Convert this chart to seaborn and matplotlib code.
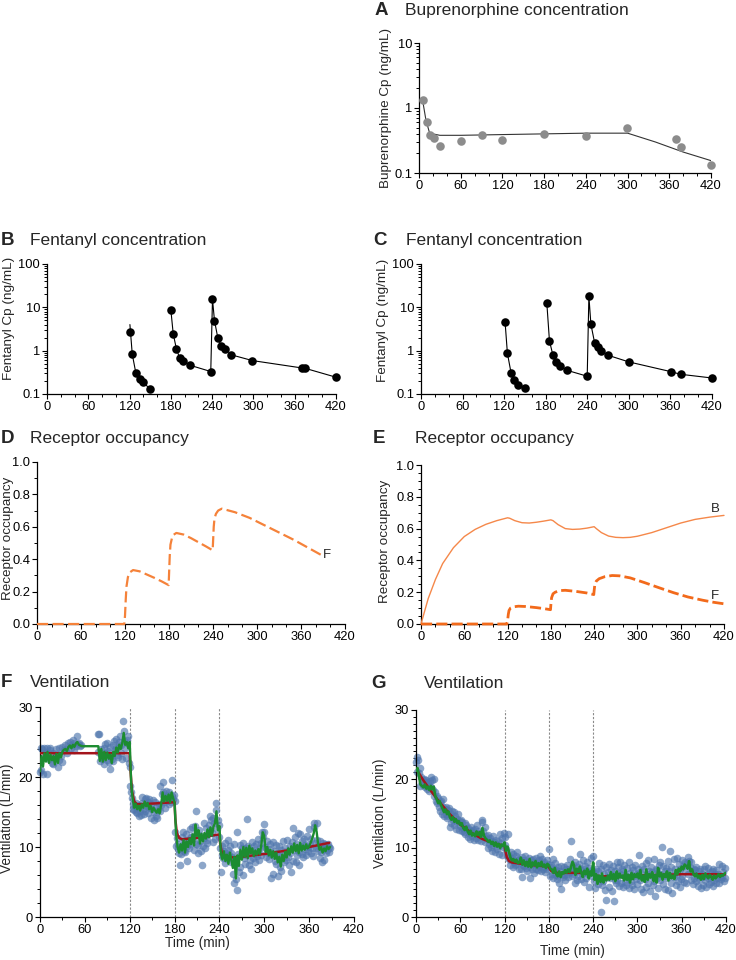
import numpy as np
import pandas as pd
import matplotlib
matplotlib.use("Agg")
import matplotlib.pyplot as plt
from matplotlib.ticker import MultipleLocator, LogLocator, NullFormatter, FormatStrFormatter
import seaborn as sns

# ---- A: buprenorphine concentration ----
bup_t = [5.8, 11.5, 15.9, 21, 30.8, 61, 90.8, 120, 180, 240, 299.4, 370, 376.8, 420]
bup_cp = [1.34, 0.60, 0.385, 0.34, 0.257, 0.31, 0.39, 0.32, 0.40, 0.37, 0.49, 0.333, 0.25, 0.131]
bup_fit_t = [5, 10, 15, 20, 30, 60, 120, 180, 240, 300, 340, 380, 420]
bup_fit_cp = [1.35, 0.65, 0.42, 0.40, 0.38, 0.38, 0.39, 0.40, 0.41, 0.41, 0.30, 0.21, 0.155]

# ---- B: fentanyl concentration ----
fb1_t = [120, 123.9, 129.2, 134.5, 139.4, 149.5]
fb1_cp = [2.65, 0.83, 0.30, 0.223, 0.186, 0.133]
fb1_fit_t = [120.5, 123.9, 129.2, 134.5, 139.4, 149.5]
fb1_fit_cp = [4.0, 0.83, 0.30, 0.223, 0.186, 0.133]
fb2_t = [180, 183.4, 188.2, 193, 197.9, 208, 238, 240.5, 243.4, 248.2, 253.5, 259.4, 268, 298.6, 370, 375.5, 420]
fb2_cp = [8.7, 2.47, 1.07, 0.67, 0.59, 0.46, 0.33, 15.4, 4.93, 1.99, 1.25, 1.11, 0.80, 0.59, 0.40, 0.39, 0.244]

# ---- C: fentanyl concentration ----
fc1_t = [121.4, 124.7, 130, 134.9, 140.2, 150.3]
fc1_cp = [4.47, 0.873, 0.306, 0.207, 0.161, 0.135]
fc2_t = [181.6, 185.4, 190.3, 195.1, 199.9, 210.5, 239.9, 242.3, 245.2, 250.5, 255.3, 260.1, 269.7, 300, 360.3, 374.7, 420]
fc2_cp = [12.5, 1.68, 0.80, 0.54, 0.45, 0.353, 0.257, 18.2, 4.09, 1.54, 1.22, 0.99, 0.785, 0.55, 0.329, 0.285, 0.234]

# ---- D: receptor occupancy (fentanyl) ----
occ_d_t = [0, 119, 120, 121, 122, 124, 127, 131, 140, 150, 160, 170, 179.5, 180, 181, 182, 184, 186, 190, 200,
           210, 220, 230, 239.5, 240, 241, 242, 244, 247, 252, 270, 290, 310, 330, 350, 370, 388]
occ_d_f = [0, 0, 0.05, 0.15, 0.23, 0.29, 0.32, 0.333, 0.325, 0.305, 0.285, 0.263, 0.24, 0.30, 0.42, 0.49, 0.53, 0.55, 0.562, 0.552,
           0.53, 0.505, 0.48, 0.455, 0.50, 0.60, 0.65, 0.68, 0.70, 0.712, 0.69, 0.655, 0.61, 0.565, 0.52, 0.47, 0.425]

# ---- E: receptor occupancy (buprenorphine + fentanyl) ----
occ_e_bt = [0, 5, 10, 20, 30, 45, 60, 75, 90, 105, 120, 123, 130, 140, 150, 160, 170, 180, 183, 190,
            200, 210, 220, 230, 240, 243, 250, 260, 270, 280, 290, 300, 320, 340, 360, 380, 400, 420]
occ_e_b = [0, 0.08, 0.16, 0.28, 0.38, 0.48, 0.55, 0.595, 0.627, 0.65, 0.668, 0.665, 0.65, 0.637, 0.635, 0.64, 0.647, 0.655, 0.65, 0.625,
           0.60, 0.595, 0.597, 0.603, 0.612, 0.60, 0.575, 0.553, 0.545, 0.543, 0.545, 0.552, 0.575, 0.605, 0.635, 0.658, 0.672, 0.683]
occ_e_ft = [0, 119, 120, 121, 122, 124, 128, 135, 145, 160, 170, 179.5, 180, 181, 183, 186, 192, 200, 215, 230,
            239.5, 240, 241, 243, 247, 255, 265, 275, 290, 310, 330, 350, 370, 390, 405, 420]
occ_e_f = [0, 0, 0.02, 0.06, 0.085, 0.10, 0.108, 0.112, 0.11, 0.103, 0.097, 0.09, 0.12, 0.165, 0.19, 0.20, 0.21, 0.212, 0.205, 0.195,
           0.185, 0.21, 0.25, 0.27, 0.285, 0.298, 0.305, 0.303, 0.29, 0.26, 0.228, 0.197, 0.17, 0.15, 0.137, 0.127]

# ---- F: ventilation, fentanyl only ----
vf1_t = [0, 1, 2, 3, 4, 5, 6, 8, 9, 10, 12, 13, 14, 16, 17, 18, 20, 21, 22, 24, 25, 26, 28, 29, 30, 32,
         34, 35, 36, 38, 40, 41, 42, 44, 45, 46, 48, 50, 51, 52, 54, 55]
vf1_v = [20.7, 24.2, 21.0, 24.0, 20.5, 22.8, 24.1, 23.6, 20.4, 24.2, 22.6, 23.9, 24.1, 22.0, 23.5, 21.8, 22.9, 24.0, 23.2,
         21.4, 22.5, 24.2, 23.0, 22.2, 24.3, 23.8, 24.6, 24.0, 23.5, 24.9, 25.0, 24.2, 24.6, 25.3, 24.8, 23.9, 24.5,
         25.8, 24.7, 24.9, 24.4, 24.6]
vf2_t = list(range(77, 120))
vf2_v = [23.6, 26.2, 26.1, 22.3, 23.2, 24.0, 22.6, 22.9, 24.2, 21.9,
         24.7, 23.4, 24.8, 22.4, 23.7, 22.1, 24.3, 21.1, 23.0, 22.6,
         24.6, 22.3, 25.1, 23.8, 24.2, 25.4, 23.2, 22.9, 25.0, 24.5,
         25.9, 23.4, 24.6, 22.6, 28.0, 25.2, 26.6, 24.1, 22.7, 25.3,
         24.8, 25.9, 22.0]
vf3_t = list(range(120, 180))
vf3_v = [21.4, 18.7, 17.8, 17.0, 15.4, 16.1, 15.3, 15.8, 16.3, 15.0,
         14.9, 15.7, 14.4, 16.0, 15.2, 14.6, 16.3, 17.2, 15.5, 14.7,
         16.9, 15.1, 17.0, 15.8, 16.4, 14.8, 16.8, 15.6, 14.2, 16.1,
         15.4, 16.7, 13.9, 15.0, 16.5, 14.5, 15.9, 14.1, 15.3, 16.2,
         15.2, 18.7, 16.0, 17.6, 19.3, 17.9, 16.4, 15.6, 17.2, 18.0,
         16.6, 17.4, 16.1, 17.8, 17.0, 16.5, 19.6, 17.3, 16.8, 17.5]
vf4_t = list(range(180, 240))
vf4_v = [16.6, 12.2, 10.2, 11.3, 9.7, 10.5, 9.2, 7.5, 10.0, 9.0,
         11.4, 12.2, 9.5, 10.8, 9.3, 11.9, 10.2, 8.0, 11.0, 9.8,
         12.6, 10.4, 11.5, 12.8, 11.6, 11.1, 9.6, 13.0, 15.2, 10.5,
         11.8, 9.2, 10.3, 12.5, 10.9, 11.6, 9.5, 7.4, 10.2, 13.4,
         11.3, 9.8, 12.7, 10.6, 11.0, 11.9, 13.1, 12.4, 14.4, 13.8,
         12.0, 10.7, 14.1, 13.5, 11.2, 15.3, 16.3, 12.6, 13.9, 11.5]
vf5_t = list(range(240, 389))
vf5_v = [13.2, 9.8, 6.4, 8.9, 10.1, 8.4, 9.5, 7.7, 10.6, 9.2,
         8.3, 11.0, 9.6, 8.8, 10.2, 7.9, 9.1, 8.6, 6.1, 10.4,
         4.8, 8.2, 5.5, 3.9, 12.2, 9.0, 6.5, 10.3, 7.2, 8.9,
         9.8, 6.0, 10.6, 8.4, 7.6, 9.9, 8.8, 14.0, 10.2, 7.4,
         9.3, 8.1, 6.8, 10.7, 9.6, 8.5, 10.1, 9.0, 7.9, 10.4,
         8.7, 9.5, 11.2, 8.2, 9.8, 10.6, 8.9, 12.1, 11.4, 13.3,
         12.2, 10.0, 8.6, 9.4, 10.8, 9.1, 8.3, 10.5, 9.7, 5.6,
         8.9, 10.7, 6.2, 9.5, 8.0, 10.3, 7.6, 9.2, 5.8, 8.7,
         10.1, 7.1, 9.6, 6.6, 8.4, 10.9, 9.0, 7.8, 9.8, 8.2,
         11.0, 9.4, 8.6, 7.5, 10.2, 9.1, 6.4, 10.7, 8.0, 12.7,
         9.6, 11.4, 7.9, 10.5, 8.8, 12.0, 9.3, 7.4, 11.8, 10.1,
         9.0, 10.8, 8.6, 11.2, 9.7, 10.3, 8.9, 11.6, 9.4, 10.0,
         12.6, 10.4, 9.2, 11.1, 9.8, 8.7, 12.9, 13.5, 10.6, 9.9,
         13.4, 11.0, 9.5, 10.2, 8.4, 10.8, 9.3, 7.8, 10.6, 9.7,
         8.2, 10.4, 9.1, 10.1, 9.6, 10.5, 9.3, 10.0, 9.8]
vf_smooth_t = list(range(0, 390, 2))
vf_smooth_v = [20.8, 23.0, 21.5, 23.4, 22.2, 23.6, 22.0, 23.2, 22.4, 23.0,
               21.8, 23.3, 22.0, 23.4, 22.8, 23.6, 23.9, 24.0, 23.7, 24.3,
               24.5, 24.1, 24.6, 24.3, 24.8, 25.0, 24.6, 24.5, 24.4, 24.4,
               24.4, 24.4, 24.4, 24.4, 24.4, 24.4, 24.4, 24.4, 24.4, 24.4,
               22.3, 24.0, 22.2, 23.6, 22.4, 23.5, 22.6, 23.2, 22.0, 23.6,
               23.0, 24.2, 23.5, 24.6, 24.0, 24.8, 26.3, 24.6, 25.0, 24.1,
               25.0, 19.0, 16.8, 15.6, 16.2, 15.4, 15.9, 15.2, 16.1, 15.6,
               16.5, 15.8, 16.3, 15.4, 15.9, 15.0, 15.6, 15.2, 14.9, 15.4,
               14.8, 16.0, 17.8, 16.5, 17.3, 16.6, 17.5, 16.4, 17.8, 17.0,
               16.3, 11.9, 10.0, 9.2, 10.4, 9.5, 11.0, 9.2, 10.8, 10.0,
               11.2, 10.4, 11.8, 10.2, 13.2, 11.6, 12.4, 10.5, 11.9, 10.8,
               12.0, 11.2, 12.5, 11.4, 12.8, 11.6, 12.9, 13.4, 15.1, 12.4,
               13.0, 9.0, 8.2, 9.4, 8.0, 8.9, 7.6, 9.2, 8.1, 7.0,
               8.6, 5.5, 8.8, 7.3, 9.6, 8.2, 10.0, 8.6, 9.9, 8.4,
               10.2, 9.1, 9.8, 8.7, 9.5, 8.9, 9.7, 9.0, 10.3, 12.1,
               11.5, 9.3, 10.0, 8.8, 9.6, 8.5, 9.4, 8.3, 9.2, 7.8,
               8.6, 7.2, 8.9, 8.0, 9.3, 8.5, 9.8, 8.9, 10.1, 9.2,
               10.5, 9.4, 10.3, 9.1, 10.6, 9.5, 10.2, 9.6, 10.4, 9.8,
               10.1, 10.6, 11.2, 11.9, 13.1, 12.2, 10.4, 9.6, 10.0, 9.2,
               9.8, 9.4, 10.1, 9.7, 10.0]
vf_model_t = [0, 120, 121, 123, 126, 130, 150, 180, 181, 183, 186, 190, 210, 240, 241, 243, 247, 255, 270, 300, 330, 360, 387]
vf_model_v = [23.4, 23.4, 21.0, 18.0, 16.5, 16.1, 16.2, 16.4, 14.0, 12.0, 11.3, 11.1, 11.3, 11.8, 10.5, 9.3, 8.8, 8.5, 8.6, 9.0, 9.5, 10.0, 10.6]

# ---- G: ventilation, buprenorphine + fentanyl ----
vg_t = list(range(0, 420))
vg_v = [22.4, 23.2, 21.0, 22.8, 20.9, 21.6, 19.0, 20.3, 19.5, 19.9,
        19.2, 20.0, 18.8, 19.6, 19.9, 18.6, 19.4, 19.0, 18.2, 19.7,
        20.3, 18.9, 19.8, 18.4, 20.0, 17.6, 18.1, 16.8, 17.5, 16.5,
        17.2, 16.0, 16.6, 15.4, 16.8, 15.0, 15.9, 17.1, 14.6, 15.7,
        15.0, 16.0, 14.4, 15.5, 14.7, 15.8, 13.0, 14.9, 13.6, 15.3,
        14.0, 15.2, 13.3, 14.6, 12.8, 14.2, 13.7, 14.9, 12.6, 13.9,
        13.2, 14.1, 12.5, 13.8, 12.9, 12.3, 13.6, 12.0, 13.3, 12.7,
        11.6, 12.9, 12.2, 11.3, 13.0, 12.4, 11.8, 12.6, 11.1, 12.3,
        12.8, 11.5, 12.0, 13.4, 11.2, 12.5, 11.7, 12.2, 11.0, 13.8,
        14.0, 12.4, 11.6, 13.0, 10.9, 11.8, 11.3, 10.0, 11.9, 10.6,
        11.5, 10.2, 11.0, 9.6, 11.8, 10.4, 10.9, 9.4, 11.2, 10.6,
        9.8, 11.0, 10.3, 9.2, 12.0, 10.7, 9.0, 11.4, 10.1, 12.2,
        11.6, 10.5, 9.8, 9.0, 8.6, 12.0, 8.9, 7.6, 8.3, 9.4,
        8.5, 7.2, 9.1, 8.0, 7.5, 8.8, 7.7, 9.4, 8.2, 6.9,
        8.4, 7.9, 7.0, 8.7, 5.8, 7.6, 8.3, 7.4, 8.9, 7.1,
        8.0, 6.6, 7.8, 8.6, 5.6, 7.3, 8.2, 6.9, 7.7, 8.4,
        6.4, 7.9, 8.5, 7.0, 7.6, 6.8, 8.3, 7.2, 8.8, 6.6,
        7.8, 8.4, 6.9, 7.3, 8.0, 6.5, 7.6, 8.2, 7.0, 7.7,
        9.8, 7.2, 6.0, 7.6, 6.3, 8.4, 5.6, 6.9, 7.8, 6.1,
        6.8, 5.5, 7.2, 6.0, 4.9, 6.6, 7.4, 4.0, 6.2, 5.8,
        7.3, 6.1, 5.4, 6.9, 7.6, 6.3, 5.8, 7.0, 6.5, 8.4,
        11.0, 6.8, 5.9, 7.5, 6.2, 5.0, 7.9, 6.6, 5.3, 7.2,
        6.0, 7.7, 9.2, 5.5, 6.8, 6.3, 8.2, 5.1, 6.9, 7.4,
        6.6, 5.7, 8.0, 6.2, 4.4, 7.1, 6.5, 8.6, 5.9, 6.8,
        8.8, 5.2, 6.4, 4.2, 7.0, 5.7, 6.6, 4.8, 7.8, 5.5,
        0.7, 6.9, 4.6, 7.6, 5.2, 6.2, 3.9, 7.3, 2.4, 5.8,
        6.5, 4.4, 7.7, 5.6, 6.8, 3.8, 6.1, 7.4, 2.3, 5.3,
        6.7, 4.9, 8.0, 5.4, 7.2, 4.5, 6.3, 7.9, 5.0, 6.9,
        4.3, 6.6, 7.5, 5.1, 6.0, 4.7, 7.1, 5.6, 8.0, 4.2,
        6.4, 5.2, 7.3, 4.6, 6.8, 5.9, 4.0, 7.6, 5.5, 6.2,
        4.8, 7.0, 9.0, 5.3, 6.5, 4.1, 7.4, 5.8, 3.6, 6.9,
        5.5, 7.8, 4.4, 6.3, 8.3, 5.0, 6.7, 3.8, 7.2, 5.9,
        6.5, 4.6, 8.4, 5.2, 3.0, 7.0, 5.7, 6.8, 4.2, 7.6,
        5.4, 8.0, 6.3, 10.2, 4.8, 7.4, 5.9, 6.7, 4.0, 7.1,
        5.6, 8.1, 3.9, 6.6, 9.6, 5.0, 7.3, 3.5, 6.1, 8.4,
        5.8, 7.0, 4.7, 8.6, 6.3, 5.2, 7.7, 4.4, 6.9, 5.5,
        8.3, 6.0, 7.4, 5.1, 8.0, 6.6, 4.9, 7.8, 6.2, 8.7,
        8.1, 7.2, 5.4, 7.9, 6.5, 4.8, 7.0, 5.6, 6.8, 5.2,
        7.3, 5.9, 4.5, 6.7, 5.5, 7.0, 4.2, 6.3, 5.8, 4.6,
        6.9, 5.3, 7.4, 4.4, 6.1, 5.7, 7.1, 4.8, 6.5, 5.1,
        5.9, 6.6, 4.5, 7.0, 5.4, 6.2, 4.9, 6.8, 5.6, 6.3,
        5.0, 7.7, 6.0, 5.5, 7.4, 5.8, 6.5, 5.2, 7.1, 5.6]
vg_smooth_t = list(range(0, 421, 2))
vg_smooth_v = [21.2, 21.6, 20.5, 19.2, 19.0, 18.8, 19.2, 18.6, 18.9, 18.4,
               19.0, 18.5, 18.9, 17.6, 17.1, 16.5, 16.8, 16.2, 15.7, 15.2,
               15.6, 14.9, 15.3, 14.4, 14.1, 14.5, 13.8, 14.2, 13.6, 13.9,
               13.3, 13.6, 12.9, 12.6, 13.1, 12.4, 12.0, 12.5, 11.8, 12.1,
               11.7, 12.4, 11.9, 12.3, 11.6, 12.9, 11.8, 11.4, 11.2, 10.9,
               11.1, 10.6, 10.9, 10.3, 10.8, 10.2, 10.6, 10.0, 10.5, 10.3,
               10.8, 9.6, 10.2, 9.4, 8.6, 8.2, 8.4, 8.0, 8.3, 7.8,
               7.9, 8.6, 7.6, 8.2, 7.4, 8.0, 7.3, 8.4, 7.2, 7.9,
               7.5, 8.1, 7.2, 7.8, 7.4, 8.0, 7.3, 7.6, 7.1, 7.7,
               7.5, 7.0, 6.9, 6.4, 7.1, 6.2, 5.9, 6.6, 5.8, 6.5,
               6.3, 6.8, 6.4, 6.9, 6.5, 7.2, 8.0, 7.5, 6.1, 7.0,
               6.5, 7.3, 6.4, 5.8, 6.7, 6.2, 7.0, 5.6, 6.6, 6.0,
               7.9, 5.4, 6.2, 4.8, 6.0, 5.1, 6.3, 5.0, 5.7, 5.3,
               6.0, 5.4, 6.5, 5.5, 6.2, 5.2, 6.6, 5.6, 6.3, 5.7,
               6.0, 5.3, 6.8, 5.4, 6.1, 5.0, 6.4, 5.5, 6.2, 5.8,
               6.3, 5.6, 6.8, 5.3, 6.0, 5.1, 6.9, 5.4, 6.2, 5.7,
               6.5, 5.2, 6.1, 5.0, 7.1, 5.9, 6.4, 5.4, 6.2, 5.8,
               6.6, 5.3, 6.4, 5.6, 6.0, 5.5, 6.8, 6.2, 7.0, 6.6,
               7.3, 6.9, 7.6, 7.4, 7.0, 8.1, 6.6, 6.9, 6.2, 5.9,
               6.3, 5.7, 6.0, 5.4, 6.1, 5.5, 6.3, 5.9, 5.6, 6.1,
               5.8, 5.4, 6.0, 5.6, 5.9, 6.2, 5.8, 6.1, 6.0, 6.3,
               6.4]
vg_model_t = [0, 10, 20, 30, 45, 60, 75, 90, 105, 120, 121, 123, 126, 130, 150, 180, 181, 183, 186, 190,
              210, 240, 241, 244, 250, 270, 300, 330, 360, 390, 420]
vg_model_v = [21.5, 19.8, 18.3, 16.9, 15.0, 13.4, 12.2, 11.3, 10.7, 10.3, 9.6, 8.7, 8.1, 7.9, 7.6, 7.3, 7.0, 6.7, 6.5, 6.4,
              6.4, 6.4, 6.2, 6.0, 5.9, 5.9, 6.0, 6.1, 6.2, 6.2, 6.2]

doses = [120, 180, 240]

sns.set_theme(style="ticks")
plt.rcParams['font.family'] = ['Liberation Sans', 'DejaVu Sans']

fig = plt.figure(figsize=(7.36, 9.6), dpi=100)


def px_axes(x0, x1, ytop, ybot):
    return fig.add_axes([x0 / 736, 1 - ybot / 960, (x1 - x0) / 736, (ybot - ytop) / 960])


def style(ax, xminor=20):
    sns.despine(ax=ax)
    for s in ['left', 'bottom']:
        ax.spines[s].set_linewidth(0.9)
        ax.spines[s].set_color('black')
    ax.set_xlim(0, 420)
    ax.xaxis.set_major_locator(MultipleLocator(60))
    ax.xaxis.set_minor_locator(MultipleLocator(xminor))
    ax.tick_params(which='major', length=3.5, width=0.8, labelsize=9.3, pad=1.5,
                   color='black', labelcolor='black', direction='out')
    ax.tick_params(which='minor', length=2, width=0.7, color='black', direction='out')


def log_axis(ax, top):
    ax.set_yscale('log')
    ax.set_ylim(0.1, top)
    ticks = [0.1, 1, 10, 100][:4 if top == 100 else 3]
    ax.set_yticks(ticks, ['0.1', '1', '10', '100'][:len(ticks)])
    ax.yaxis.set_minor_locator(LogLocator(base=10, subs=np.arange(2, 10)))
    ax.yaxis.set_minor_formatter(NullFormatter())


def title(letter, text, xl, xt, ybase):
    fig.text(xl / 736, 1 - ybase / 960, letter, fontsize=13.5, fontweight='bold', va='baseline')
    fig.text(xt / 736, 1 - ybase / 960, text, fontsize=12.5, va='baseline')


def line(ax, x, y, **kw):
    sns.lineplot(x=x, y=y, ax=ax, estimator=None, sort=False, legend=False, **kw)


# A
axA = px_axes(419, 711, 43, 173)
line(axA, bup_fit_t, bup_fit_cp, color='#333333', linewidth=0.8)
sns.scatterplot(x=bup_t, y=bup_cp, ax=axA, color='#8c8c8c', s=38, linewidth=0, clip_on=False, zorder=3)
style(axA)
log_axis(axA, 10)
axA.set_ylabel('Buprenorphine Cp (ng/mL)', fontsize=9.7)
axA.yaxis.set_label_coords(-0.092, 0.5)
title('A', 'Buprenorphine concentration', 375, 405, 15)

# B
axB = px_axes(47, 336, 264, 394)
line(axB, fb1_fit_t, fb1_fit_cp, color='black', linewidth=0.8)
line(axB, fb2_t, fb2_cp, color='black', linewidth=0.8)
sns.scatterplot(x=fb1_t + fb2_t, y=fb1_cp + fb2_cp, ax=axB, color='black', s=38, linewidth=0, clip_on=False, zorder=3)
style(axB)
log_axis(axB, 100)
axB.set_ylabel('Fentanyl Cp (ng/mL)', fontsize=9.7)
axB.yaxis.set_label_coords(-0.112, 0.585)
title('B', 'Fentanyl concentration', 1, 30, 245)

# C
axC = px_axes(421, 712, 264, 394)
line(axC, fc1_t, fc1_cp, color='black', linewidth=0.8)
line(axC, fc2_t, fc2_cp, color='black', linewidth=0.8)
sns.scatterplot(x=fc1_t + fc2_t, y=fc1_cp + fc2_cp, ax=axC, color='black', s=38, linewidth=0, clip_on=False, zorder=3)
style(axC)
log_axis(axC, 100)
axC.set_ylabel('Fentanyl Cp (ng/mL)', fontsize=9.7)
axC.yaxis.set_label_coords(-0.111, 0.57)
title('C', 'Fentanyl concentration', 373, 406, 245)

# D
axD = px_axes(37, 345, 462, 624)
line(axD, occ_d_t, occ_d_f, color='#f5823a', linewidth=1.6, linestyle=(0, (5, 2)), clip_on=False, zorder=4)
style(axD)
axD.set_ylim(0, 1)
axD.yaxis.set_major_locator(MultipleLocator(0.2))
axD.yaxis.set_minor_locator(MultipleLocator(0.1))
axD.yaxis.set_major_formatter(FormatStrFormatter('%.1f'))
axD.text(390, 0.425, 'F', fontsize=9.5, va='center', ha='left')
axD.set_ylabel('Receptor occupancy', fontsize=9.7)
axD.yaxis.set_label_coords(-0.075, 0.53)
title('D', 'Receptor occupancy', 1, 30, 443)

# E
axE = px_axes(421, 724, 465, 624)
line(axE, occ_e_bt, occ_e_b, color='#f5884a', linewidth=1.0, clip_on=False, zorder=4)
line(axE, occ_e_ft, occ_e_f, color='#f26a1b', linewidth=2.0, linestyle=(0, (4, 1.5)), clip_on=False, zorder=4)
style(axE)
axE.set_ylim(0, 1)
axE.yaxis.set_major_locator(MultipleLocator(0.2))
axE.yaxis.set_minor_locator(MultipleLocator(0.05))
axE.yaxis.set_major_formatter(FormatStrFormatter('%.1f'))
axE.text(402, 0.722, 'B', fontsize=9.5, va='center', ha='left')
axE.text(402, 0.173, 'F', fontsize=9.5, va='center', ha='left')
axE.set_ylabel('Receptor occupancy', fontsize=9.7)
axE.yaxis.set_label_coords(-0.100, 0.517)
title('E', 'Receptor occupancy', 373, 415, 443)

# F
axF = px_axes(40, 354, 707, 917)
for d in doses:
    axF.axvline(d, color='#8a8a8a', linewidth=0.8, linestyle=(0, (2, 1.5)), zorder=1)
sns.scatterplot(x=vf1_t + vf2_t + vf3_t + vf4_t + vf5_t, y=vf1_v + vf2_v + vf3_v + vf4_v + vf5_v, ax=axF,
                color='#4f76ad', alpha=0.65, s=30, linewidth=0, clip_on=False, zorder=2)
line(axF, vf_model_t, vf_model_v, color='#a3141b', linewidth=1.8, zorder=3)
line(axF, vf_smooth_t, vf_smooth_v, color='#1c8c30', linewidth=1.7, zorder=4)
style(axF, xminor=30)
axF.set_ylim(0, 30)
axF.yaxis.set_major_locator(MultipleLocator(10))
axF.yaxis.set_minor_locator(MultipleLocator(2))
axF.set_ylabel('Ventilation (L/min)', fontsize=9.8)
axF.yaxis.set_label_coords(-0.083, 0.47)
axF.set_xlabel('Time (min)', fontsize=9.8)
axF.xaxis.set_label_coords(0.5, -0.092)
title('F', 'Ventilation', 1, 30, 687)

# G
axG = px_axes(416, 726, 710, 917)
for d in doses:
    axG.axvline(d, color='#8a8a8a', linewidth=0.8, linestyle=(0, (2, 1.5)), zorder=1)
sns.scatterplot(x=vg_t, y=vg_v, ax=axG, color='#4f76ad', alpha=0.65, s=30, linewidth=0, clip_on=False, zorder=2)
line(axG, vg_model_t, vg_model_v, color='#a3141b', linewidth=1.8, zorder=3)
line(axG, vg_smooth_t, vg_smooth_v, color='#1c8c30', linewidth=1.9, zorder=4)
style(axG, xminor=30)
axG.set_ylim(0, 30)
axG.yaxis.set_major_locator(MultipleLocator(10))
axG.yaxis.set_minor_locator(MultipleLocator(1))
axG.set_ylabel('Ventilation (L/min)', fontsize=9.8)
axG.yaxis.set_label_coords(-0.093, 0.5)
axG.set_xlabel('Time (min)', fontsize=9.8)
axG.xaxis.set_label_coords(0.504, -0.13)
title('G', 'Ventilation', 371, 424, 688)

fig.savefig('out.png', dpi=100)
